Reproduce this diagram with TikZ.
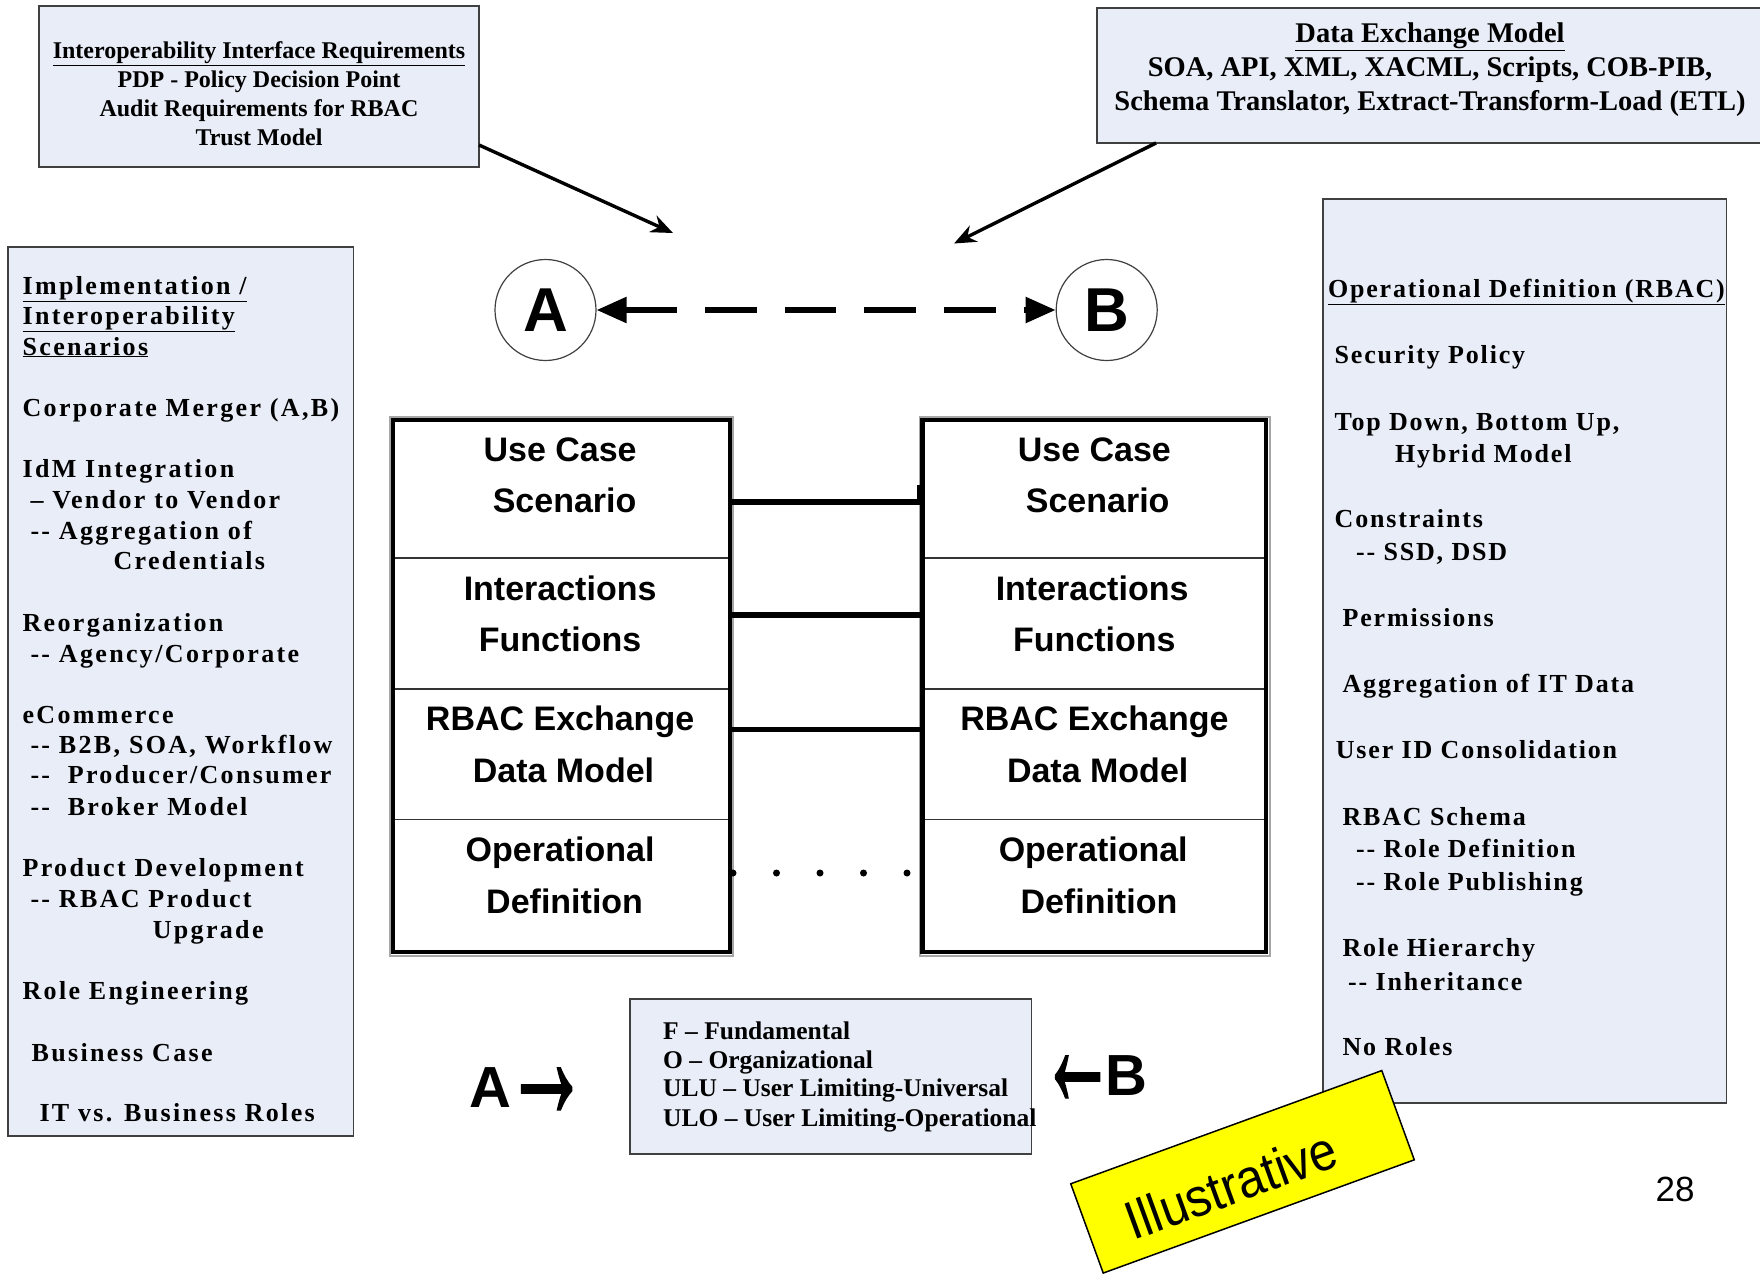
\documentclass[tikz,border=0pt]{standalone}
\usepackage{fontspec}
\setmainfont{Liberation Serif}
\newfontfamily\headsans{Liberation Sans}
\newfontfamily\arrowsans{Liberation Sans}[FakeBold=1.4]
\newfontfamily\spacedserif{Liberation Serif}[LetterSpace=9]
\newfontfamily\spacedserifR{Liberation Serif}[LetterSpace=7]
\usetikzlibrary{arrows.meta,calc}

\definecolor{boxfill}{RGB}{232,237,247}
\definecolor{boxline}{RGB}{64,64,64}
\definecolor{tagyellow}{RGB}{255,255,0}

% large arrow glyph: #1 horizontal scale, #2 glyph
\newcommand{\bigarrow}[2]{\raisebox{-11pt}{\scalebox{#1}[1.75]{\arrowsans\fontsize{100}{100}\selectfont #2}}}

\begin{document}
\begin{tikzpicture}[x=1pt,y=-1pt,
  infobox/.style={draw=boxline,line width=1.6pt,fill=boxfill,inner sep=0pt,outer sep=0pt,anchor=north west},
  cell/.style={rectangle,inner sep=0pt,outer sep=0pt},
  celltext/.style={anchor=base,inner sep=0pt,font=\headsans\bfseries\fontsize{34}{40}\selectfont},
  lefttext/.style={anchor=base west,inner sep=0pt,font=\spacedserif\bfseries\fontsize{26}{30}\selectfont},
  righttext/.style={anchor=base west,inner sep=0pt,font=\spacedserifR\bfseries\fontsize{26}{30}\selectfont},
  legendtext/.style={anchor=base west,inner sep=0pt,font=\bfseries\fontsize{25.5}{29}\selectfont},
  sidemark/.style={anchor=base west,inner sep=0pt,font=\headsans\bfseries\fontsize{58}{58}\selectfont},
  stackframe/.style={draw=black,line width=4.5pt},
  stackshadow/.style={draw=black!35,line width=2pt},
  divider/.style={draw=black!80,line width=1.8pt},
  link/.style={draw=black,line width=5.6pt},
  pointer/.style={draw=black,line width=3.4pt,-{Stealth[length=22pt,width=18pt]}},
  party/.style={circle,draw=black!75,line width=1.2pt,minimum size=101pt,inner sep=0pt,
    font=\headsans\bfseries\fontsize{62}{62}\selectfont},
]
\useasboundingbox (0,0) rectangle (1760,1274);
\clip (0,0) rectangle (1760,1274);
\fill[white] (0,0) rectangle (1760,1274);

% ---------- information boxes ----------
\node[infobox,minimum width=440pt,minimum height=161pt] (ireqbox) at (39,6) {};
\node[align=center,inner sep=0pt,font=\bfseries\fontsize{24}{29}\selectfont] (ireqtext) at (259,94)
  {\underline{Interoperability Interface Requirements}\\PDP - Policy Decision Point\\Audit Requirements for RBAC\\Trust Model};

\node[infobox,minimum width=668pt,minimum height=135pt] (dxbox) at (1097,8) {};
\node[align=center,inner sep=0pt,font=\bfseries\fontsize{28.5}{34}\selectfont] (dxtext) at (1430,69.5)
  {\underline{Data Exchange Model}\\SOA, API, XML, XACML, Scripts, COB-PIB,\\Schema Translator, Extract-Transform-Load (ETL)};

\node[infobox,minimum width=345.7pt,minimum height=889pt] (scenbox) at (7.9,247) {};
\node[infobox,minimum width=403.3pt,minimum height=904.3pt] (opbox) at (1323,198.7) {};
\node[infobox,minimum width=401.8pt,minimum height=154.9pt] (legbox) at (629.7,999) {};

% ---------- parties A and B ----------
\node[party] (A) at (545.5,310) {A};
\node[party] (B) at (1106.7,310) {B};
\draw[line width=5.6pt,dash pattern=on 51.6pt off 28.1pt,
  {Triangle[length=30pt,width=25pt]}-{Triangle[length=30pt,width=25pt]}] (A) -- (B);

\coordinate (ireqtip) at (673,233);
\coordinate (dxtip) at (954,243.5);
\draw[pointer] ($(ireqbox.south east)+(0,-22)$) -- (ireqtip);
\draw[pointer] ($(dxbox.south west)+(59,0)$) -- (dxtip);

% ---------- layered stacks ----------
\node[cell,minimum width=337pt,minimum height=137.8pt] (a1) at (561.5,488.9) {};
\node[cell,minimum width=337pt,minimum height=131.4pt] (a2) at (561.5,623.5) {};
\node[cell,minimum width=337pt,minimum height=130.2pt] (a3) at (561.5,754.3) {};
\node[cell,minimum width=337pt,minimum height=132.6pt] (a4) at (561.5,885.7) {};
\node[cell,minimum width=343.4pt,minimum height=137.8pt] (b1) at (1094.3,488.9) {};
\node[cell,minimum width=343.4pt,minimum height=131.4pt] (b2) at (1094.3,623.5) {};
\node[cell,minimum width=343.4pt,minimum height=130.2pt] (b3) at (1094.3,754.3) {};
\node[cell,minimum width=343.4pt,minimum height=132.6pt] (b4) at (1094.3,885.7) {};

\draw[stackshadow] ($(a1.north west)+(-3,-3.5)$) rectangle ($(a4.south east)+(3,4)$);
\draw[stackshadow] ($(b1.north west)+(-2.5,-3.5)$) rectangle ($(b4.south east)+(3.5,4)$);
\foreach \s in {a,b}{
  \draw[divider] (\s1.south west) -- (\s1.south east);
  \draw[divider] (\s2.south west) -- (\s2.south east);
  \draw[divider] (\s3.south west) -- (\s3.south east);
  \draw[stackframe] (\s1.north west) rectangle (\s4.south east);
}

\node[celltext] (a1t1) at (560.1,461) {Use Case};
\node[celltext] (a1t2) at (564.6,512.6) {Scenario};
\node[celltext] (a2t1) at (560.1,600) {Interactions};
\node[celltext] (a2t2) at (560.1,651.8) {Functions};
\node[celltext] (a3t1) at (560.1,730.3) {RBAC Exchange};
\node[celltext] (a3t2) at (563.5,782) {Data Model};
\node[celltext] (a4t1) at (560.1,861.7) {Operational};
\node[celltext] (a4t2) at (564.6,913.3) {Definition};

\node[celltext] (b1t1) at (1094.4,461) {Use Case};
\node[celltext] (b1t2) at (1097.7,512.6) {Scenario};
\node[celltext] (b2t1) at (1092.1,600) {Interactions};
\node[celltext] (b2t2) at (1094.4,651.8) {Functions};
\node[celltext] (b3t1) at (1094.4,730.3) {RBAC Exchange};
\node[celltext] (b3t2) at (1097.7,782) {Data Model};
\node[celltext] (b4t1) at (1093.2,861.7) {Operational};
\node[celltext] (b4t2) at (1098.9,913.3) {Definition};

% links between matching layers
\coordinate (ly1) at (0,501.7);
\coordinate (ly2) at (0,615);
\coordinate (ly3) at (0,729.6);
\coordinate (ly4) at (0,873);
\draw[link] (a1.east |- ly1) -- (b1.west |- ly1);
\draw[black,line width=4pt] ($(b1.west |- ly1)+(-3.5,2)$) -- ++(0,-19);
\draw[link] (a2.east |- ly2) -- (b2.west |- ly2);
\draw[link] (a3.east |- ly3) -- (b3.west |- ly3);
\draw[black,line width=7pt,line cap=round,dash pattern=on 0pt off 43.5pt,dash phase=40.5pt]
  (a4.east |- ly4) -- (b4.west |- ly4);

% ---------- scenario list ----------
\node[lefttext] (s1) at (22.4,294) {\underline{Implementation /}};
\node[lefttext] (s2) at (22.4,324.5) {\underline{Interoperability}};
\node[lefttext] (s3) at (22.4,355) {\underline{Scenarios}};
\node[lefttext] (s4) at (22.4,416.6) {Corporate Merger (A,B)};
\node[lefttext] (s5) at (22.4,477) {IdM Integration};
\node[lefttext] (s6) at (30.3,508.6) {– Vendor to Vendor};
\node[lefttext] (s7) at (30.3,539) {-{}- Aggregation of};
\node[lefttext] (s8) at (113.4,569) {Credentials};
\node[lefttext] (s9) at (22.4,631) {Reorganization};
\node[lefttext] (s10) at (30.3,662.4) {-{}- Agency/Corporate};
\node[lefttext] (s11) at (22.4,723) {eCommerce};
\node[lefttext] (s12) at (30.3,753.3) {-{}- B2B, SOA, Workflow};
\node[lefttext] (s13) at (30.3,783.6) {-{}-\ \ Producer/Consumer};
\node[lefttext] (s14) at (30.3,815) {-{}-\ \ Broker Model};
\node[lefttext] (s15) at (22.4,876.7) {Product Development};
\node[lefttext] (s16) at (30.3,907) {-{}- RBAC Product};
\node[lefttext] (s17) at (152.6,938.5) {Upgrade};
\node[lefttext] (s18) at (22.4,999) {Role Engineering};
\node[lefttext] (s19) at (31.4,1061) {Business Case};
\node[lefttext] (s20) at (39.3,1121.4) {IT vs. Business Roles};

% ---------- operational definition list ----------
\node[righttext] (r1) at (1327.8,297.6) {\underline{Operational Definition (RBAC)}};
\node[righttext] (r2) at (1334.5,363.8) {Security Policy};
\node[righttext] (r3) at (1334.5,430) {Top Down, Bottom Up,};
\node[righttext] (r4) at (1395,462.6) {Hybrid Model};
\node[righttext] (r5) at (1334.5,527.7) {Constraints};
\node[righttext] (r6) at (1355.9,560.2) {-{}- SSD, DSD};
\node[righttext] (r7) at (1342.4,626.4) {Permissions};
\node[righttext] (r8) at (1342.4,692.7) {Aggregation of IT Data};
\node[righttext] (r9) at (1335.7,758.9) {User ID Consolidation};
\node[righttext] (r10) at (1342.4,825.1) {RBAC Schema};
\node[righttext] (r11) at (1355.9,857.7) {-{}- Role Definition};
\node[righttext] (r12) at (1355.9,890.2) {-{}- Role Publishing};
\node[righttext] (r13) at (1342.4,956.4) {Role Hierarchy};
\node[righttext] (r14) at (1348,990.1) {-{}- Inheritance};
\node[righttext] (r15) at (1342.4,1055.2) {No Roles};

% ---------- legend ----------
\node[legendtext] (g1) at (663,1039.5) {F – Fundamental};
\node[legendtext] (g2) at (663,1068.7) {O – Organizational};
\node[legendtext] (g3) at (663,1096.8) {ULU – User Limiting-Universal};
\node[legendtext] (g4) at (663,1126) {ULO – User Limiting-Operational};

\node[sidemark] (ato) at (469,1107) {A\kern-7pt\bigarrow{0.85}{→}};
\node[sidemark] (bto) at (1040,1095) {\bigarrow{0.75}{←}\kern-10pt B};

% ---------- tag and page number ----------
\node[draw=black,line width=1.5pt,fill=tagyellow,rotate=20,minimum width=331pt,minimum height=95pt] (tag) at (1242.5,1171.8) {};
\node[rotate=20,inner sep=0pt,yscale=1.1,font=\headsans\fontsize{49}{49}\selectfont] (tagtext) at (1231,1185) {Illustrative};

\node[inner sep=0pt,font=\headsans\fontsize{35}{35}\selectfont] (pagenum) at (1675,1189.5) {28};
\end{tikzpicture}
\end{document}
